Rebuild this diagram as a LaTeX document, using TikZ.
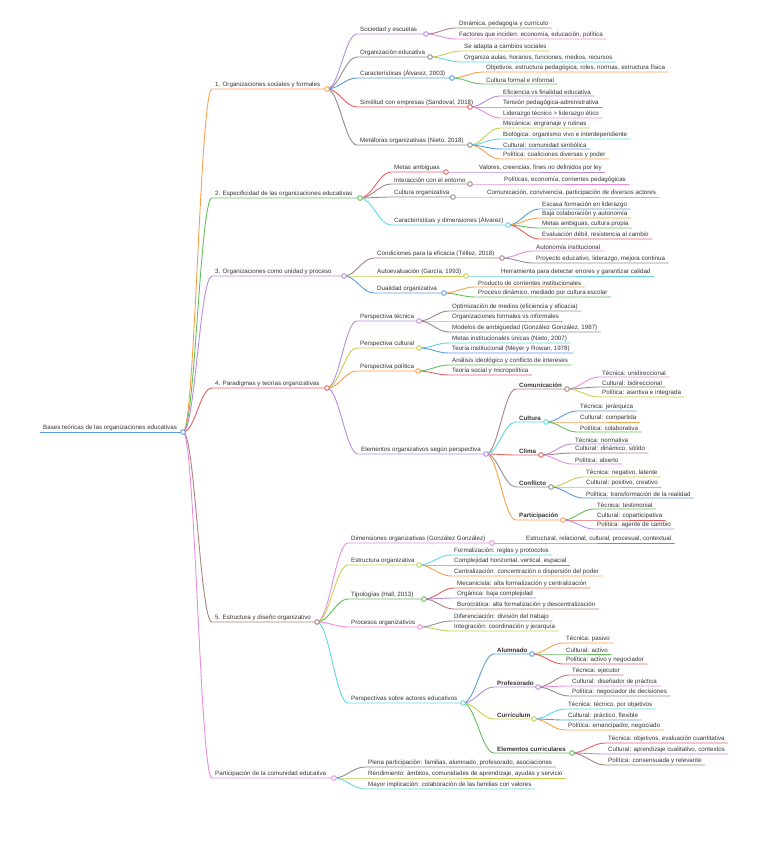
\documentclass[tikz,border=0pt]{standalone}
\usepackage{fontspec}
\newfontfamily\mapfont{Liberation Sans}
\definecolor{cOrange}{HTML}{F7A04B}
\definecolor{cGreen}{HTML}{62C05C}
\definecolor{cPurple}{HTML}{B78BE0}
\definecolor{cRed}{HTML}{E4605E}
\definecolor{cBrown}{HTML}{A9827C}
\definecolor{cPink}{HTML}{EA8CDC}
\definecolor{cGray}{HTML}{8E8E8E}
\definecolor{cOlive}{HTML}{CACD4E}
\definecolor{cCyan}{HTML}{62D4E8}
\definecolor{cBlue}{HTML}{5B9DD9}
\definecolor{txt}{HTML}{333333}
\pgfdeclarelayer{fondo}
\pgfsetlayers{fondo,main}

\begin{document}
\begin{tikzpicture}[
        x=1pt, y=-1pt,
        topic/.style={anchor=south west, inner xsep=3pt, inner ysep=1.2pt, text=txt, font=\mapfont\fontsize{6.2}{7}\selectfont},
        keytopic/.style={topic, font=\mapfont\bfseries\fontsize{6.2}{7}\selectfont},
        dot/.style={circle, draw=#1, fill=white, line width=0.9pt, inner sep=0pt, minimum size=4.6pt},
        link/.style={draw=#1, line width=0.9pt, line cap=round},
        conn/.style={out=0, in=180, out distance=12pt, in distance=12pt}
    ]
    \useasboundingbox (0,0) rectangle (758,848);

    % Raiz
    \node[topic] (raiz) at (40,432) {Bases teóricas de las organizaciones educativas};
    \node[dot=cBlue] (p0) at (183,432) {};
    \begin{pgfonlayer}{fondo}
        \draw[link=cBlue] (raiz.south west) -- (p0.center);
    \end{pgfonlayer}

    % Rama 1
    \node[topic] (r1) at (212,89) {1. Organizaciones sociales y formales};
    \node[dot=cOrange] (p1) at (327,89) {};
    \node[topic] (r1_1) at (357,34) {Sociedad y escuelas};
    \node[dot=cPurple] (p1_1) at (426,34) {};
    \node[topic] (r1_1_1) at (456,28) {Dinámica, pedagogía y currículo};
    \node[topic] (r1_1_2) at (456,39) {Factores que inciden: economía, educación, política};
    \node[topic] (r1_2) at (357,57) {Organización educativa};
    \node[dot=cGray] (p1_2) at (430,57) {};
    \node[topic] (r1_2_1) at (461,51) {Se adapta a cambios sociales};
    \node[topic] (r1_2_2) at (461,62) {Organiza aulas, horarios, funciones, medios, recursos};
    \node[topic] (r1_3) at (357,78) {Características (Álvarez, 2003)};
    \node[dot=cBlue] (p1_3) at (452,78) {};
    \node[topic] (r1_3_1) at (483,72) {Objetivos, estructura pedagógica, roles, normas, estructura física};
    \node[topic] (r1_3_2) at (483,84) {Cultura formal e informal};
    \node[topic] (r1_4) at (357,107) {Similitud con empresas (Sandoval, 2018)};
    \node[dot=cRed] (p1_4) at (470,107) {};
    \node[topic] (r1_4_1) at (500,96) {Eficiencia vs finalidad educativa};
    \node[topic] (r1_4_2) at (500,107) {Tensión pedagógica-administrativa};
    \node[topic] (r1_4_3) at (500,118) {Liderazgo técnico > liderazgo ético};
    \node[topic] (r1_5) at (357,145) {Metáforas organizativas (Nieto, 2018)};
    \node[dot=cGray] (p1_5) at (470,145) {};
    \node[topic] (r1_5_1) at (500,128) {Mecánica: engranaje y rutinas};
    \node[topic] (r1_5_2) at (500,139) {Biológica: organismo vivo e interdependiente};
    \node[topic] (r1_5_3) at (500,149) {Cultural: comunidad simbólica};
    \node[topic] (r1_5_4) at (500,159) {Política: coaliciones diversas y poder};
    \begin{pgfonlayer}{fondo}
        \draw[link=cOrange] (p0.center) to[conn] (r1.south west) -- (p1.center);
        \draw[link=cPurple] (p1.center) to[conn] (r1_1.south west) -- (p1_1.center);
        \draw[link=cBrown] (p1_1.center) to[conn] (r1_1_1.south west) -- (r1_1_1.south east);
        \draw[link=cPink] (p1_1.center) to[conn] (r1_1_2.south west) -- (r1_1_2.south east);
        \draw[link=cGray] (p1.center) to[conn] (r1_2.south west) -- (p1_2.center);
        \draw[link=cOlive] (p1_2.center) to[conn] (r1_2_1.south west) -- (r1_2_1.south east);
        \draw[link=cCyan] (p1_2.center) to[conn] (r1_2_2.south west) -- (r1_2_2.south east);
        \draw[link=cBlue] (p1.center) to[conn] (r1_3.south west) -- (p1_3.center);
        \draw[link=cOrange] (p1_3.center) to[conn] (r1_3_1.south west) -- (r1_3_1.south east);
        \draw[link=cGreen] (p1_3.center) to[conn] (r1_3_2.south west) -- (r1_3_2.south east);
        \draw[link=cRed] (p1.center) to[conn] (r1_4.south west) -- (p1_4.center);
        \draw[link=cPurple] (p1_4.center) to[conn] (r1_4_1.south west) -- (r1_4_1.south east);
        \draw[link=cBrown] (p1_4.center) to[conn] (r1_4_2.south west) -- (r1_4_2.south east);
        \draw[link=cPink] (p1_4.center) to[conn] (r1_4_3.south west) -- (r1_4_3.south east);
        \draw[link=cGray] (p1.center) to[conn] (r1_5.south west) -- (p1_5.center);
        \draw[link=cOlive] (p1_5.center) to[conn] (r1_5_1.south west) -- (r1_5_1.south east);
        \draw[link=cCyan] (p1_5.center) to[conn] (r1_5_2.south west) -- (r1_5_2.south east);
        \draw[link=cBlue] (p1_5.center) to[conn] (r1_5_3.south west) -- (r1_5_3.south east);
        \draw[link=cOrange] (p1_5.center) to[conn] (r1_5_4.south west) -- (r1_5_4.south east);
    \end{pgfonlayer}

    % Rama 2
    \node[topic] (r2) at (212,198) {2. Especificidad de las organizaciones educativas};
    \node[dot=cGreen] (p2) at (360,198) {};
    \node[topic] (r2_1) at (391,172) {Metas ambiguas};
    \node[dot=cRed] (p2_1) at (446,172) {};
    \node[topic] (r2_1_1) at (476,172) {Valores, creencias, fines no definidos por ley};
    \node[topic] (r2_2) at (391,184) {Interacción con el entorno};
    \node[dot=cBrown] (p2_2) at (470,184) {};
    \node[topic] (r2_2_1) at (501,184) {Políticas, economía, corrientes pedagógicas};
    \node[topic] (r2_3) at (391,197) {Cultura organizativa};
    \node[dot=cGray] (p2_3) at (453,197) {};
    \node[topic] (r2_3_1) at (484,197) {Comunicación, convivencia, participación de diversos actores};
    \node[topic] (r2_4) at (391,225) {Características y dimensiones (Álvarez)};
    \node[dot=cCyan] (p2_4) at (508,225) {};
    \node[topic] (r2_4_1) at (539,209) {Escasa formación en liderazgo};
    \node[topic] (r2_4_2) at (539,218) {Baja colaboración y autonomía};
    \node[topic] (r2_4_3) at (539,228) {Metas ambiguas, cultura propia};
    \node[topic] (r2_4_4) at (539,239) {Evaluación débil, resistencia al cambio};
    \begin{pgfonlayer}{fondo}
        \draw[link=cGreen] (p0.center) to[conn] (r2.south west) -- (p2.center);
        \draw[link=cRed] (p2.center) to[conn] (r2_1.south west) -- (p2_1.center);
        \draw[link=cPurple] (p2_1.center) to[conn] (r2_1_1.south west) -- (r2_1_1.south east);
        \draw[link=cBrown] (p2.center) to[conn] (r2_2.south west) -- (p2_2.center);
        \draw[link=cPink] (p2_2.center) to[conn] (r2_2_1.south west) -- (r2_2_1.south east);
        \draw[link=cGray] (p2.center) to[conn] (r2_3.south west) -- (p2_3.center);
        \draw[link=cOlive] (p2_3.center) to[conn] (r2_3_1.south west) -- (r2_3_1.south east);
        \draw[link=cCyan] (p2.center) to[conn] (r2_4.south west) -- (p2_4.center);
        \draw[link=cBlue] (p2_4.center) to[conn] (r2_4_1.south west) -- (r2_4_1.south east);
        \draw[link=cOrange] (p2_4.center) to[conn] (r2_4_2.south west) -- (r2_4_2.south east);
        \draw[link=cGreen] (p2_4.center) to[conn] (r2_4_3.south west) -- (r2_4_3.south east);
        \draw[link=cRed] (p2_4.center) to[conn] (r2_4_4.south west) -- (r2_4_4.south east);
    \end{pgfonlayer}

    % Rama 3
    \node[topic] (r3) at (212,276) {3. Organizaciones como unidad y proceso};
    \node[dot=cPurple] (p3) at (344,276) {};
    \node[topic] (r3_1) at (374,258) {Condiciones para la eficacia (Téllez, 2018)};
    \node[dot=cBrown] (p3_1) at (502,258) {};
    \node[topic] (r3_1_1) at (533,251) {Autonomía institucional};
    \node[topic] (r3_1_2) at (533,263) {Proyecto educativo, liderazgo, mejora continua};
    \node[topic] (r3_2) at (374,276) {Autoevaluación (García, 1993)};
    \node[dot=cOlive] (p3_2) at (466,276) {};
    \node[topic] (r3_2_1) at (498,276) {Herramienta para detectar errores y garantizar calidad};
    \node[topic] (r3_3) at (374,293) {Dualidad organizativa};
    \node[dot=cBlue] (p3_3) at (444,293) {};
    \node[topic] (r3_3_1) at (475,287) {Producto de corrientes institucionales};
    \node[topic] (r3_3_2) at (475,297) {Proceso dinámico, mediado por cultura escolar};
    \begin{pgfonlayer}{fondo}
        \draw[link=cPurple] (p0.center) to[conn] (r3.south west) -- (p3.center);
        \draw[link=cBrown] (p3.center) to[conn] (r3_1.south west) -- (p3_1.center);
        \draw[link=cPink] (p3_1.center) to[conn] (r3_1_1.south west) -- (r3_1_1.south east);
        \draw[link=cGray] (p3_1.center) to[conn] (r3_1_2.south west) -- (r3_1_2.south east);
        \draw[link=cOlive] (p3.center) to[conn] (r3_2.south west) -- (p3_2.center);
        \draw[link=cCyan] (p3_2.center) to[conn] (r3_2_1.south west) -- (r3_2_1.south east);
        \draw[link=cBlue] (p3.center) to[conn] (r3_3.south west) -- (p3_3.center);
        \draw[link=cOrange] (p3_3.center) to[conn] (r3_3_1.south west) -- (r3_3_1.south east);
        \draw[link=cGreen] (p3_3.center) to[conn] (r3_3_2.south west) -- (r3_3_2.south east);
    \end{pgfonlayer}

    % Rama 4
    \node[topic] (r4) at (212,388) {4. Paradigmas y teorías organizativas};
    \node[dot=cRed] (p4) at (327,388) {};
    \node[topic] (r4_1) at (357,321) {Perspectiva técnica};
    \node[dot=cPurple] (p4_1) at (419,321) {};
    \node[topic] (r4_1_1) at (449,311) {Optimización de medios (eficiencia y eficacia)};
    \node[topic] (r4_1_2) at (449,321) {Organizaciones formales vs informales};
    \node[topic] (r4_1_3) at (449,332) {Modelos de ambigüedad (González González, 1987)};
    \node[topic] (r4_2) at (357,348) {Perspectiva cultural};
    \node[dot=cOlive] (p4_2) at (419,348) {};
    \node[topic] (r4_2_1) at (449,343) {Metas institucionales únicas (Nieto, 2007)};
    \node[topic] (r4_2_2) at (449,353) {Teoría institucional (Meyer y Rowan, 1978)};
    \node[topic] (r4_3) at (357,371) {Perspectiva política};
    \node[dot=cOrange] (p4_3) at (418,371) {};
    \node[topic] (r4_3_1) at (449,365) {Análisis ideológico y conflicto de intereses};
    \node[topic] (r4_3_2) at (449,375) {Teoría social y micropolítica};
    \node[topic] (r4_4) at (358,454) {Elementos organizativos según perspectiva};
    \node[dot=cPurple] (p4_4) at (486,454) {};
    \node[keytopic] (r4_4_1) at (516,389) {Comunicación};
    \node[dot=cBrown] (p4_4_1) at (567,389) {};
    \node[topic] (r4_4_1a) at (599,377) {Técnica: unidireccional};
    \node[topic] (r4_4_1b) at (599,387) {Cultural: bidireccional};
    \node[topic] (r4_4_1c) at (599,397) {Política: asertiva e integrada};
    \node[keytopic] (r4_4_2) at (516,422) {Cultura};
    \node[dot=cCyan] (p4_4_2) at (546,422) {};
    \node[topic] (r4_4_2a) at (577,411) {Técnica: jerárquica};
    \node[topic] (r4_4_2b) at (577,422) {Cultural: compartida};
    \node[topic] (r4_4_2c) at (577,432) {Política: colaborativa};
    \node[keytopic] (r4_4_3) at (516,455) {Clima};
    \node[dot=cRed] (p4_4_3) at (541,455) {};
    \node[topic] (r4_4_3a) at (572,444) {Técnica: normativa};
    \node[topic] (r4_4_3b) at (572,453) {Cultural: dinámico, sólido};
    \node[topic] (r4_4_3c) at (572,464) {Política: abierto};
    \node[keytopic] (r4_4_4) at (516,487) {Conflicto};
    \node[dot=cGray] (p4_4_4) at (551,487) {};
    \node[topic] (r4_4_4a) at (583,477) {Técnica: negativo, latente};
    \node[topic] (r4_4_4b) at (583,487) {Cultural: positivo, creativo};
    \node[topic] (r4_4_4c) at (583,498) {Política: transformación de la realidad};
    \node[keytopic] (r4_4_5) at (516,520) {Participación};
    \node[dot=cOrange] (p4_4_5) at (563,520) {};
    \node[topic] (r4_4_5a) at (594,509) {Técnica: testimonial};
    \node[topic] (r4_4_5b) at (594,520) {Cultural: coparticipativa};
    \node[topic] (r4_4_5c) at (594,529) {Política: agente de cambio};
    \begin{pgfonlayer}{fondo}
        \draw[link=cRed] (p0.center) to[conn] (r4.south west) -- (p4.center);
        \draw[link=cPurple] (p4.center) to[conn] (r4_1.south west) -- (p4_1.center);
        \draw[link=cBrown] (p4_1.center) to[conn] (r4_1_1.south west) -- (r4_1_1.south east);
        \draw[link=cPink] (p4_1.center) to[conn] (r4_1_2.south west) -- (r4_1_2.south east);
        \draw[link=cGray] (p4_1.center) to[conn] (r4_1_3.south west) -- (r4_1_3.south east);
        \draw[link=cOlive] (p4.center) to[conn] (r4_2.south west) -- (p4_2.center);
        \draw[link=cCyan] (p4_2.center) to[conn] (r4_2_1.south west) -- (r4_2_1.south east);
        \draw[link=cBlue] (p4_2.center) to[conn] (r4_2_2.south west) -- (r4_2_2.south east);
        \draw[link=cOrange] (p4.center) to[conn] (r4_3.south west) -- (p4_3.center);
        \draw[link=cGreen] (p4_3.center) to[conn] (r4_3_1.south west) -- (r4_3_1.south east);
        \draw[link=cRed] (p4_3.center) to[conn] (r4_3_2.south west) -- (r4_3_2.south east);
        \draw[link=cPurple] (p4.center) to[conn] (r4_4.south west) -- (p4_4.center);
        \draw[link=cBrown] (p4_4.center) to[conn] (r4_4_1.south west) -- (p4_4_1.center);
        \draw[link=cPink] (p4_4_1.center) to[conn] (r4_4_1a.south west) -- (r4_4_1a.south east);
        \draw[link=cGray] (p4_4_1.center) to[conn] (r4_4_1b.south west) -- (r4_4_1b.south east);
        \draw[link=cOlive] (p4_4_1.center) to[conn] (r4_4_1c.south west) -- (r4_4_1c.south east);
        \draw[link=cCyan] (p4_4.center) to[conn] (r4_4_2.south west) -- (p4_4_2.center);
        \draw[link=cBlue] (p4_4_2.center) to[conn] (r4_4_2a.south west) -- (r4_4_2a.south east);
        \draw[link=cOrange] (p4_4_2.center) to[conn] (r4_4_2b.south west) -- (r4_4_2b.south east);
        \draw[link=cGreen] (p4_4_2.center) to[conn] (r4_4_2c.south west) -- (r4_4_2c.south east);
        \draw[link=cRed] (p4_4.center) to[conn] (r4_4_3.south west) -- (p4_4_3.center);
        \draw[link=cPurple] (p4_4_3.center) to[conn] (r4_4_3a.south west) -- (r4_4_3a.south east);
        \draw[link=cBrown] (p4_4_3.center) to[conn] (r4_4_3b.south west) -- (r4_4_3b.south east);
        \draw[link=cPink] (p4_4_3.center) to[conn] (r4_4_3c.south west) -- (r4_4_3c.south east);
        \draw[link=cGray] (p4_4.center) to[conn] (r4_4_4.south west) -- (p4_4_4.center);
        \draw[link=cOlive] (p4_4_4.center) to[conn] (r4_4_4a.south west) -- (r4_4_4a.south east);
        \draw[link=cCyan] (p4_4_4.center) to[conn] (r4_4_4b.south west) -- (r4_4_4b.south east);
        \draw[link=cBlue] (p4_4_4.center) to[conn] (r4_4_4c.south west) -- (r4_4_4c.south east);
        \draw[link=cOrange] (p4_4.center) to[conn] (r4_4_5.south west) -- (p4_4_5.center);
        \draw[link=cGreen] (p4_4_5.center) to[conn] (r4_4_5a.south west) -- (r4_4_5a.south east);
        \draw[link=cRed] (p4_4_5.center) to[conn] (r4_4_5b.south west) -- (r4_4_5b.south east);
        \draw[link=cPurple] (p4_4_5.center) to[conn] (r4_4_5c.south west) -- (r4_4_5c.south east);
    \end{pgfonlayer}

    % Rama 5
    \node[topic] (r5) at (212,622) {5. Estructura y diseño organizativo};
    \node[dot=cBrown] (p5) at (317,622) {};
    \node[topic] (r5_1) at (348,543) {Dimensiones organizativas (González González)};
    \node[dot=cPink] (p5_1) at (492,543) {};
    \node[topic] (r5_1_1) at (523,543) {Estructural, relacional, cultural, procesual, contextual};
    \node[topic] (r5_2) at (348,565) {Estructura organizativa};
    \node[dot=cOlive] (p5_2) at (419,565) {};
    \node[topic] (r5_2_1) at (451,555) {Formalización: reglas y protocolos};
    \node[topic] (r5_2_2) at (451,565) {Complejidad horizontal, vertical, espacial};
    \node[topic] (r5_2_3) at (451,576) {Centralización: concentración o dispersión del poder};
    \node[topic] (r5_3) at (348,599) {Tipologías (Hall, 2013)};
    \node[dot=cGreen] (p5_3) at (424,599) {};
    \node[topic] (r5_3_1) at (454,588) {Mecanicista: alta formalización y centralización};
    \node[topic] (r5_3_2) at (454,598) {Orgánica: baja complejidad};
    \node[topic] (r5_3_3) at (454,609) {Burocrática: alta formalización y descentralización};
    \node[topic] (r5_4) at (348,627) {Procesos organizativos};
    \node[dot=cPink] (p5_4) at (420,627) {};
    \node[topic] (r5_4_1) at (451,621) {Diferenciación: división del trabajo};
    \node[topic] (r5_4_2) at (451,631) {Integración: coordinación y jerarquía};
    \node[topic] (r5_5) at (348,703) {Perspectivas sobre actores educativos};
    \node[dot=cCyan] (p5_5) at (463,703) {};
    \node[keytopic] (r5_5_1) at (494,654) {Alumnado};
    \node[dot=cBlue] (p5_5_1) at (532,654) {};
    \node[topic] (r5_5_1a) at (563,643) {Técnica: pasivo};
    \node[topic] (r5_5_1b) at (563,654) {Cultural: activo};
    \node[topic] (r5_5_1c) at (563,664) {Política: activo y negociador};
    \node[keytopic] (r5_5_2) at (494,687) {Profesorado};
    \node[dot=cPurple] (p5_5_2) at (538,687) {};
    \node[topic] (r5_5_2a) at (569,675) {Técnica: ejecutor};
    \node[topic] (r5_5_2b) at (569,686) {Cultural: diseñador de práctica};
    \node[topic] (r5_5_2c) at (569,696) {Política: negociador de decisiones};
    \node[keytopic] (r5_5_3) at (494,719) {Currículum};
    \node[dot=cOlive] (p5_5_3) at (534,719) {};
    \node[topic] (r5_5_3a) at (565,709) {Técnica: técnico, por objetivos};
    \node[topic] (r5_5_3b) at (565,720) {Cultural: práctico, flexible};
    \node[topic] (r5_5_3c) at (565,730) {Política: emancipador, negociado};
    \node[keytopic] (r5_5_4) at (494,753) {Elementos curriculares};
    \node[dot=cGreen] (p5_5_4) at (572,753) {};
    \node[topic] (r5_5_4a) at (605,743) {Técnica: objetivos, evaluación cuantitativa};
    \node[topic] (r5_5_4b) at (605,754) {Cultural: aprendizaje cualitativo, contextos};
    \node[topic] (r5_5_4c) at (605,765) {Política: consensuada y relevante};
    \begin{pgfonlayer}{fondo}
        \draw[link=cBrown] (p0.center) to[conn] (r5.south west) -- (p5.center);
        \draw[link=cPink] (p5.center) to[conn] (r5_1.south west) -- (p5_1.center);
        \draw[link=cGray] (p5_1.center) to[conn] (r5_1_1.south west) -- (r5_1_1.south east);
        \draw[link=cOlive] (p5.center) to[conn] (r5_2.south west) -- (p5_2.center);
        \draw[link=cCyan] (p5_2.center) to[conn] (r5_2_1.south west) -- (r5_2_1.south east);
        \draw[link=cBlue] (p5_2.center) to[conn] (r5_2_2.south west) -- (r5_2_2.south east);
        \draw[link=cOrange] (p5_2.center) to[conn] (r5_2_3.south west) -- (r5_2_3.south east);
        \draw[link=cGreen] (p5.center) to[conn] (r5_3.south west) -- (p5_3.center);
        \draw[link=cRed] (p5_3.center) to[conn] (r5_3_1.south west) -- (r5_3_1.south east);
        \draw[link=cPurple] (p5_3.center) to[conn] (r5_3_2.south west) -- (r5_3_2.south east);
        \draw[link=cBrown] (p5_3.center) to[conn] (r5_3_3.south west) -- (r5_3_3.south east);
        \draw[link=cPink] (p5.center) to[conn] (r5_4.south west) -- (p5_4.center);
        \draw[link=cGray] (p5_4.center) to[conn] (r5_4_1.south west) -- (r5_4_1.south east);
        \draw[link=cOlive] (p5_4.center) to[conn] (r5_4_2.south west) -- (r5_4_2.south east);
        \draw[link=cCyan] (p5.center) to[conn] (r5_5.south west) -- (p5_5.center);
        \draw[link=cBlue] (p5_5.center) to[conn] (r5_5_1.south west) -- (p5_5_1.center);
        \draw[link=cOrange] (p5_5_1.center) to[conn] (r5_5_1a.south west) -- (r5_5_1a.south east);
        \draw[link=cGreen] (p5_5_1.center) to[conn] (r5_5_1b.south west) -- (r5_5_1b.south east);
        \draw[link=cRed] (p5_5_1.center) to[conn] (r5_5_1c.south west) -- (r5_5_1c.south east);
        \draw[link=cPurple] (p5_5.center) to[conn] (r5_5_2.south west) -- (p5_5_2.center);
        \draw[link=cBrown] (p5_5_2.center) to[conn] (r5_5_2a.south west) -- (r5_5_2a.south east);
        \draw[link=cPink] (p5_5_2.center) to[conn] (r5_5_2b.south west) -- (r5_5_2b.south east);
        \draw[link=cGray] (p5_5_2.center) to[conn] (r5_5_2c.south west) -- (r5_5_2c.south east);
        \draw[link=cOlive] (p5_5.center) to[conn] (r5_5_3.south west) -- (p5_5_3.center);
        \draw[link=cCyan] (p5_5_3.center) to[conn] (r5_5_3a.south west) -- (r5_5_3a.south east);
        \draw[link=cBlue] (p5_5_3.center) to[conn] (r5_5_3b.south west) -- (r5_5_3b.south east);
        \draw[link=cOrange] (p5_5_3.center) to[conn] (r5_5_3c.south west) -- (r5_5_3c.south east);
        \draw[link=cGreen] (p5_5.center) to[conn] (r5_5_4.south west) -- (p5_5_4.center);
        \draw[link=cRed] (p5_5_4.center) to[conn] (r5_5_4a.south west) -- (r5_5_4a.south east);
        \draw[link=cPurple] (p5_5_4.center) to[conn] (r5_5_4b.south west) -- (r5_5_4b.south east);
        \draw[link=cBrown] (p5_5_4.center) to[conn] (r5_5_4c.south west) -- (r5_5_4c.south east);
    \end{pgfonlayer}

    % Rama 6
    \node[topic] (r6) at (212,778) {Participación de la comunidad educativa};
    \node[dot=cPink] (p6) at (334,778) {};
    \node[topic] (r6_1) at (365,767) {Plena participación: familias, alumnado, profesorado, asociaciones};
    \node[topic] (r6_2) at (365,778) {Rendimiento: ámbitos, comunidades de aprendizaje, ayudas y servicio};
    \node[topic] (r6_3) at (365,789) {Mayor implicación: colaboración de las familias con valores};
    \begin{pgfonlayer}{fondo}
        \draw[link=cPink] (p0.center) to[conn] (r6.south west) -- (p6.center);
        \draw[link=cGray] (p6.center) to[conn] (r6_1.south west) -- (r6_1.south east);
        \draw[link=cOlive] (p6.center) to[conn] (r6_2.south west) -- (r6_2.south east);
        \draw[link=cCyan] (p6.center) to[conn] (r6_3.south west) -- (r6_3.south east);
    \end{pgfonlayer}

\end{tikzpicture}
\end{document}
